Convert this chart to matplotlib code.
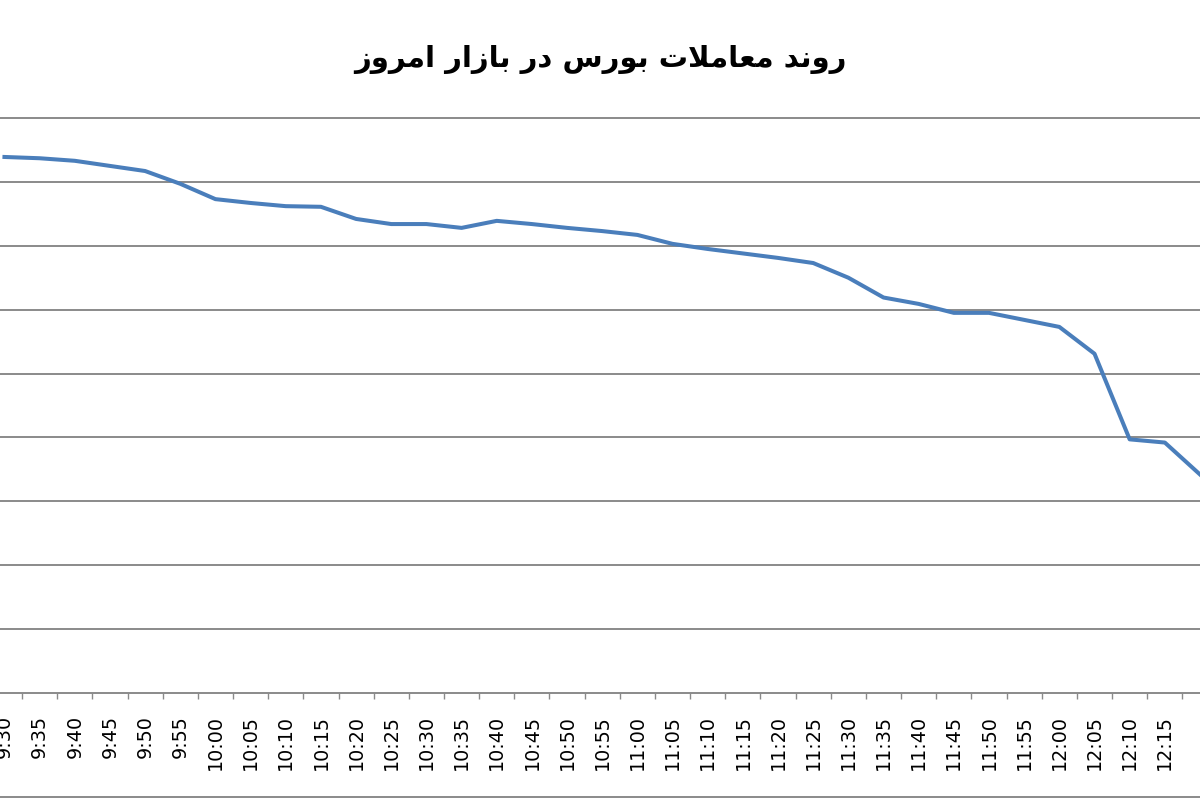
import numpy as np
import matplotlib
matplotlib.use("Agg")
import matplotlib.pyplot as plt
from matplotlib.lines import Line2D

# ===== 数据 (从图中估读, 单位 = 网格间距) =====
times = ["9:30", "9:35", "9:40", "9:45", "9:50", "9:55",
         "10:00", "10:05", "10:10", "10:15", "10:20", "10:25",
         "10:30", "10:35", "10:40", "10:45", "10:50", "10:55",
         "11:00", "11:05", "11:10", "11:15", "11:20", "11:25",
         "11:30", "11:35", "11:40", "11:45", "11:50", "11:55",
         "12:00", "12:05", "12:10", "12:15", "12:20"]
values = [8.39, 8.37, 8.33, 8.25, 8.17, 7.97,
          7.73, 7.67, 7.62, 7.61, 7.42, 7.34,
          7.34, 7.28, 7.39, 7.34, 7.28, 7.23,
          7.17, 7.03, 6.95, 6.88, 6.81, 6.73,
          6.50, 6.19, 6.09, 5.95, 5.95, 5.84,
          5.73, 5.31, 3.97, 3.92, 3.42]

# 标题: 波斯语, 预先整形 (阿拉伯表现形式, 视觉顺序)
title_words = [
    "\uFEAF\uFEED\uFEAE\uFEE3\uFE8D",            # امروز
    "\uFEAD\uFE8D\uFEAF\uFE8E\uFE91",            # بازار
    "\uFEAD\uFEA9",                              # در
    "\uFEB1\uFEAD\uFEEE\uFE91",                  # بورس
    "\uFE95\uFEFC\uFEE3\uFE8E\uFECC\uFEE3",      # معاملات
    "\uFEAA\uFEE7\uFEED\uFEAD",                  # روند
]
title = " ".join(title_words)


def main():
    fig = plt.figure(figsize=(12, 8), dpi=100)
    fig.patch.set_facecolor("white")

    # 绘图区 (左右两侧被裁掉); 顶部留一点空间让最上面的网格线完整显示
    top_px = 118 - 0.05 * 64
    ax = fig.add_axes([0.0, (800 - 693) / 800, 1.0, (693 - top_px) / 800])
    x = np.arange(len(times))
    ax.plot(x, values, color="#4A7EBB", linewidth=2.9, solid_joinstyle="round")

    ax.set_xlim(-4.5 / 35.5, (1200 - 4.5) / 35.5)
    ax.set_ylim(0, 9.05)

    ax.set_yticks(np.arange(1, 10))
    ax.yaxis.grid(True, color="#8A8A8A", linewidth=1.4)
    ax.set_axisbelow(True)
    ax.tick_params(axis="y", left=False, labelleft=False)

    for s in ["top", "left", "right"]:
        ax.spines[s].set_visible(False)
    ax.spines["bottom"].set_color("#8A8A8A")
    ax.spines["bottom"].set_linewidth(1.4)

    # 类别标签在中间, 刻度线在类别之间; 最后一个类别的标签在图外
    labels = times[:-1] + [""]
    ax.set_xticks(x)
    ax.set_xticklabels(labels, rotation=90, fontsize=13.8, family="DejaVu Sans")
    ax.tick_params(axis="x", which="major", length=0, pad=16)
    ax.set_xticks(x[:-1] + 0.5, minor=True)
    ax.tick_params(axis="x", which="minor", length=4, width=1.0, color="#8A8A8A",
                   direction="out")

    fig.text(0.5, 1 - 60 / 800, title, ha="center", va="center",
             fontsize=21, fontweight="bold", family=["DejaVu Sans"])

    # 图表区底部边框
    fig.add_artist(Line2D([0, 1], [3 / 800, 3 / 800], color="#8A8A8A",
                          linewidth=1.4, transform=fig.transFigure))

    fig.savefig("out.png", dpi=100, facecolor="white")
    plt.close(fig)


if __name__ == "__main__":
    main()
